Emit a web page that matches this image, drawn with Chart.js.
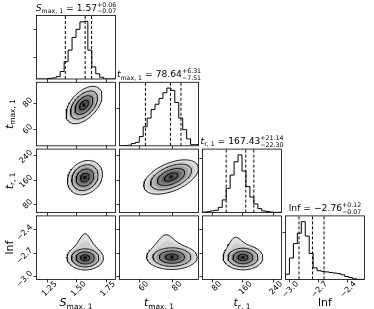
<!DOCTYPE html>
<html>
<head>
<meta charset="utf-8">
<script src="https://cdn.jsdelivr.net/npm/chart.js@4.4.1/dist/chart.umd.min.js"></script>
<style>
html, body { margin: 0; padding: 0; background: #fff; }
#fig { position: relative; width: 374px; height: 309px; overflow: hidden; }
#fig canvas { position: absolute; left: 0; top: 0; }
</style>
</head>
<body>
<div id="fig"></div>
<script>
// parameters: S_max,1  t_max,1  t_r,1  lnf
const paramRanges = [[1.153, 1.83], [48, 95.5], [54, 261], [-3.04, -2.22]];
const tickValues = [[1.25, 1.5, 1.75], [60, 80], [80, 160, 240], [-3.0, -2.7, -2.4]];
const tickLabels = [['1.25', '1.50', '1.75'], ['60', '80'], ['80', '160', '240'], ['−3.0', '−2.7', '−2.4']];

// 1D histograms, 20 bins across each range, height relative to the peak
const histS    = [0, 0, 0, 0, 1, 2, 4, 13, 30, 50, 72, 86, 99, 100, 50, 21, 9, 3, 0, 0];
const histTmax = [0, 0, 0.5, 1, 4, 6, 16, 33, 48, 63, 72, 82, 92, 100, 96, 75, 48, 28, 12, 2];
const histTr   = [0, 1, 1.5, 3, 4, 9, 22, 42, 65, 88, 100, 72, 45, 27, 15, 7, 3, 2, 1, 0.5];
const histLnf  = [0, 9, 37, 62, 80, 100, 75, 45, 20, 15, 14, 13, 12, 11, 10, 8, 5, 3, 1, 0];
const histYTicks = [[38, 86], [65], [93], [81]];

// dashed lines on the diagonal panels
const linesS    = [1.40, 1.57, 1.625];
const linesTmax = [63.6, 78.64, 84.95];
const linesTr   = [116, 167.43, 188.57];
const linesLnf  = [-2.90, -2.76, -2.64];

// title numbers
const medianText = ['1.57', '78.64', '167.43', '−2.76'];
const errPlus  = ['+0.06', '+6.31', '+21.14', '+0.12'];
const errMinus = ['−0.07', '−7.51', '−22.30', '−0.07'];

// 2D contours: centre x, centre y, sigma x, sigma y, correlation, upper tail, tail shift
const pairSTmax   = [1.56, 78.5, 0.077, 7.0, 0.5, 0, 0];
const pairSTr     = [1.568, 168, 0.075, 28, 0.2, 0, 0];
const pairTmaxTr  = [79, 170, 8.2, 28, 0.5, 0, 0];
const pairSLnf    = [1.57, -2.762, 0.078, 0.078, 0, 2.0, 0];
const pairTmaxLnf = [79.5, -2.752, 7.6, 0.08, 0, 1.8, -0.3];
const pairTrLnf   = [160, -2.757, 26, 0.08, 0, 1.8, -0.5];

const hists = [histS, histTmax, histTr, histLnf];
const qLines = [linesS, linesTmax, linesTr, linesLnf];
const pairs = { '10': pairSTmax, '20': pairSTr, '21': pairTmaxTr, '30': pairSLnf, '31': pairTmaxLnf, '32': pairTrLnf };

const FONT = "'DejaVu Sans', sans-serif";
const W = 374, H = 309;
const COLS_LEFT = [36.5, 119.5, 202.5, 285.5];
const ROWS_TOP = [15.5, 82.3, 149.1, 215.9];
const PANEL_W = 79, PANEL_H = 63.5;
const AX = 25;
const HIST_TOP = 110;

const symbolPieces = [
    [{ t: 'S', it: true }, { t: 'max, 1', s: 1 }],
    [{ t: 't', it: true }, { t: 'max, 1', s: 1 }],
    [{ t: 't', it: true }, { t: 'r, 1', s: 1 }],
    [{ t: 'lnf' }]
];

function drawMath(ctx, pieces, x, y, B, angle) {
    const S = B * 0.68;
    const fontOf = (it, sz) => (it ? 'italic ' : '') + sz + 'px ' + FONT;
    ctx.save();
    ctx.translate(x, y);
    if (angle) ctx.rotate(angle);
    let total = 0;
    const items = pieces.map(p => {
        let w;
        if (p.sup !== undefined) {
            ctx.font = fontOf(false, S);
            w = Math.max(ctx.measureText(p.sup).width, ctx.measureText(p.sub).width);
        } else {
            ctx.font = fontOf(p.it, p.s ? S : B);
            w = ctx.measureText(p.t).width;
        }
        total += w;
        return { p, w };
    });
    let cx = -total / 2;
    ctx.fillStyle = '#000';
    ctx.textAlign = 'left';
    ctx.textBaseline = 'alphabetic';
    items.forEach(({ p, w }) => {
        if (p.sup !== undefined) {
            ctx.font = fontOf(false, S);
            ctx.fillText(p.sup, cx, -B * 0.42);
            ctx.fillText(p.sub, cx, B * 0.3);
        } else {
            ctx.font = fontOf(p.it, p.s ? S : B);
            ctx.fillText(p.t, cx, p.s ? B * 0.24 : 0);
        }
        cx += w;
    });
    ctx.restore();
}

function labelPlugin(labels) {
    return {
        id: 'mathLabels',
        afterDraw(chart) {
            const a = chart.chartArea, ctx = chart.ctx;
            const mx = (a.left + a.right) / 2, my = (a.top + a.bottom) / 2;
            labels.forEach(l => {
                if (l.kind === 'title') drawMath(ctx, l.pieces, mx, a.top - 5, 9.2, 0);
                if (l.kind === 'x') drawMath(ctx, l.pieces, mx, a.bottom + 27, 11, 0);
                if (l.kind === 'y') drawMath(ctx, l.pieces, a.left - 24, my, 11, -Math.PI / 2);
            });
        }
    };
}

const framePlugin = {
    id: 'frame',
    afterDatasetsDraw(chart) {
        const a = chart.chartArea, ctx = chart.ctx;
        ctx.save();
        ctx.strokeStyle = '#000';
        ctx.lineWidth = 0.8;
        ctx.strokeRect(a.left, a.top, a.right - a.left, a.bottom - a.top);
        ctx.restore();
    }
};

function axisOpts(range, ticks, labels, isX) {
    return {
        type: 'linear',
        min: range[0],
        max: range[1],
        afterBuildTicks: s => { s.ticks = ticks.map(v => ({ value: v })); },
        afterFit: s => {
            if (isX) s.height = AX; else s.width = AX;
            s.paddingLeft = s.paddingRight = s.paddingTop = s.paddingBottom = 0;
        },
        grid: { display: true, drawOnChartArea: false, drawTicks: true, tickLength: 3, color: '#000', lineWidth: 0.8 },
        border: { display: false },
        ticks: {
            display: !!labels,
            autoSkip: false,
            minRotation: 45,
            maxRotation: 45,
            padding: isX ? -3 : 2,
            color: '#000',
            labelOffset: isX ? 8 : -4,
            font: { family: FONT, size: 8 },
            callback: (v, i) => labels ? labels[i] : ''
        }
    };
}

function binPoints(hist, range) {
    const n = hist.length, w = (range[1] - range[0]) / n;
    const pts = [{ x: range[0], y: 0 }];
    hist.forEach((h, i) => pts.push({ x: range[0] + i * w, y: h }));
    pts.push({ x: range[1], y: hist[n - 1] });
    pts.push({ x: range[1], y: 0 });
    return pts;
}

function contourPoints(c, r) {
    const [cx, cy, sx, sy, rho, tail, shift] = c;
    const k = Math.sqrt(1 - rho * rho);
    const w = Math.max(0, (r - 1.5) * 2);
    const pts = [];
    for (let i = 0; i <= 96; i++) {
        const a = i / 96 * 2 * Math.PI;
        const u = Math.cos(a), v = Math.sin(a);
        let y = sy * r * (rho * u + k * v);
        if (tail && v > 0) y += sy * tail * w * v * v * Math.exp(-Math.pow((u - shift) / 0.45, 2));
        pts.push({ x: cx + sx * r * u, y: cy + y });
    }
    return pts;
}

const fillLevels = [2.0, 1.75, 1.5, 1.25, 1.0, 0.75, 0.5, 0.3];
const lineLevels = [2.0, 1.5, 1.0, 0.5];

const fig = document.getElementById('fig');

function makePanel(r, c) {
    const cv = document.createElement('canvas');
    cv.width = W; cv.height = H;
    fig.appendChild(cv);
    const left = COLS_LEFT[c], top = ROWS_TOP[r];
    const ds = [];
    const labels = [];
    let yOpts;
    if (r === c) {
        const range = paramRanges[c];
        qLines[c].forEach(q => ds.push({
            data: [{ x: q, y: 0 }, { x: q, y: HIST_TOP }],
            borderColor: '#000', borderWidth: 1, borderDash: [3, 2], pointRadius: 0, fill: false
        }));
        ds.push({
            data: binPoints(hists[c], range), stepped: 'after',
            borderColor: '#000', borderWidth: 1, pointRadius: 0, fill: false
        });
        yOpts = axisOpts([0, HIST_TOP], histYTicks[c], null, false);
        labels.push({ kind: 'title', pieces: [...symbolPieces[c], { t: ' = ' + medianText[c] }, { sup: errPlus[c], sub: errMinus[c] }] });
    } else {
        const p = pairs['' + r + c];
        fillLevels.forEach(lv => {
            const g = Math.round(255 * (1 - 0.72 * Math.exp(-Math.pow(lv - 0.125, 2) / 2)));
            ds.push({
                data: contourPoints(p, lv), fill: 'shape',
                backgroundColor: `rgb(${g},${g},${g})`, borderWidth: 0, pointRadius: 0
            });
        });
        ds.push({
            data: [{ x: p[0], y: p[1] }], showLine: false,
            pointStyle: 'rect', pointRadius: 2.2, backgroundColor: '#111', borderWidth: 0
        });
        lineLevels.forEach(lv => ds.push({
            data: contourPoints(p, lv), fill: false,
            borderColor: '#000', borderWidth: 0.9, pointRadius: 0
        }));
        yOpts = axisOpts(paramRanges[r], tickValues[r], c === 0 ? tickLabels[r] : null, false);
        if (c === 0) labels.push({ kind: 'y', pieces: symbolPieces[r] });
    }
    if (r === 3) labels.push({ kind: 'x', pieces: symbolPieces[c] });
    ds.forEach((d, i) => { d.order = ds.length - i; });

    new Chart(cv.getContext('2d'), {
        type: 'line',
        data: { datasets: ds },
        options: {
            responsive: false,
            animation: false,
            devicePixelRatio: 1,
            events: [],
            layout: {
                padding: {
                    left: left - AX,
                    top: top,
                    right: W - (left + PANEL_W),
                    bottom: H - (top + PANEL_H) - AX
                }
            },
            plugins: { legend: { display: false }, tooltip: { enabled: false } },
            scales: {
                x: axisOpts(paramRanges[c], tickValues[c], r === 3 ? tickLabels[c] : null, true),
                y: yOpts
            }
        },
        plugins: [framePlugin, labelPlugin(labels)]
    });
}

for (let r = 0; r < 4; r++) {
    for (let c = 0; c <= r; c++) makePanel(r, c);
}
</script>
</body>
</html>
